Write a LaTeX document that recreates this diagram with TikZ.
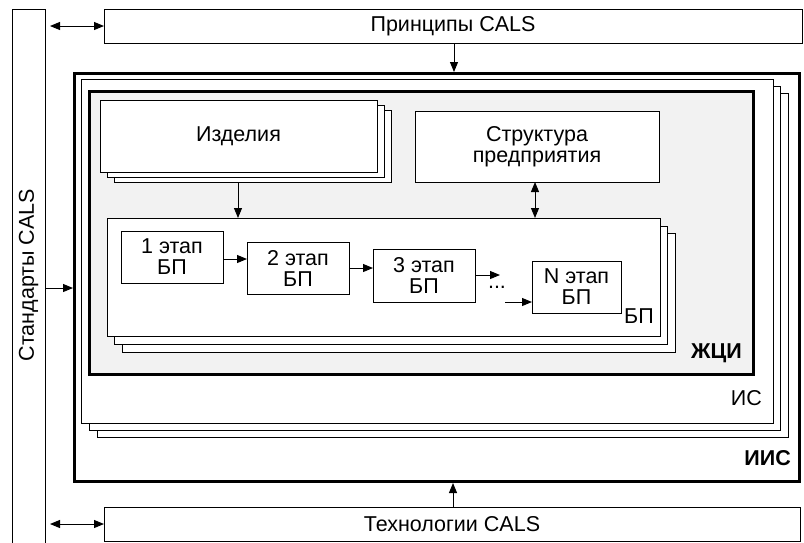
\documentclass[tikz,border=0pt]{standalone}
\usepackage{fontspec}
\setmainfont{Liberation Sans}
\usetikzlibrary{arrows.meta,calc}
\definecolor{zcigray}{HTML}{F2F2F2}
\newcommand{\dfont}{\fontsize{21.5}{21}\selectfont}
\begin{document}
\begin{tikzpicture}[x=1pt,y=-1pt,
  box/.style={draw=black, line width=1pt, fill=white, inner sep=0pt, outer sep=0pt, font=\dfont, align=center},
  thickbox/.style={draw=black, line width=3pt, inner sep=0pt, outer sep=0pt},
  layer/.style={draw=black, line width=1pt, fill=white},
  arr/.style={line width=1pt, -{Triangle[length=10pt,width=8pt]}},
  darr/.style={line width=1pt, {Triangle[length=10pt,width=8pt]}-{Triangle[length=10pt,width=8pt]}},
  lbl/.style={inner sep=0pt, font=\dfont},
  blbl/.style={inner sep=0pt, font=\dfont\bfseries}]
\useasboundingbox (0,0) rectangle (804,542);
\clip (0,0) rectangle (804,542);

% outer frames
\node[box, minimum width=33pt, minimum height=543pt] (std) at (28.5,280.5) {};
\node[lbl, rotate=90] (stdlbl) at (28.5,275) {Стандарты CALS};
\node[box, minimum width=698pt, minimum height=34pt] (principles) at (453,26) {Принципы CALS};
\node[box, minimum width=696pt, minimum height=34pt] (tech) at (452,524) {Технологии CALS};

% IIS
\node[thickbox, minimum width=725pt, minimum height=408pt] (iis) at (437,277.5) {};
% IS stack
\draw[layer] (97,93) rectangle (788,437);
\draw[layer] (89,86) rectangle (780,430);
\node[box, minimum width=692pt, minimum height=344pt] (is) at (427,251) {};
% ZCI
\node[thickbox, fill=zcigray, minimum width=664pt, minimum height=283.7pt] (zci) at (421,232.85) {};

% Izdeliya stack
\node[box, minimum width=277pt, minimum height=72pt] (izd) at (238.5,136) {};
\draw[layer] ($(izd.north west)+(14,10)$) rectangle ($(izd.south east)+(14,10)$);
\draw[layer] ($(izd.north west)+(7,5)$) rectangle ($(izd.south east)+(7,5)$);
\node[box, minimum width=277pt, minimum height=72pt] (izdf) at (238.5,136) {Изделия};

% Struktura
\node[box, minimum width=244pt, minimum height=71pt] (str) at (537,146.5) {Структура\\предприятия};

% BP stack
\draw[layer] (122,233) rectangle (675,352);
\draw[layer] (114,226) rectangle (667,344);
\node[box, minimum width=553pt, minimum height=118pt] (bp) at (383.5,277) {};

% steps
\node[box, minimum width=102pt, minimum height=52pt] (s1) at (172,257) {1 этап\\БП};
\node[box, minimum width=102pt, minimum height=52pt] (s2) at (298,268) {2 этап\\БП};
\node[box, minimum width=102pt, minimum height=53pt] (s3) at (424,275.5) {3 этап\\БП};
\node[box, minimum width=89pt, minimum height=52pt] (sN) at (576.5,287) {N этап\\БП};
\node[lbl, anchor=base] (dots) at (497,288) {...};

% labels
\node[lbl, anchor=base east] (bplbl) at (654,323) {БП};
\node[blbl, anchor=base east] (zcilbl) at (742,358) {ЖЦИ};
\node[lbl, anchor=base east] (islbl) at (762,405) {ИС};
\node[blbl, anchor=base east] (iislbl) at (791,465) {ИИС};

% helper coordinates
\coordinate (cp) at (454,0);
\coordinate (ct) at (453,0);
\coordinate (cstd) at (0,288);
\coordinate (ci) at (238,0);
\coordinate (cs) at (535,0);
\coordinate (c12) at (0,259);
\coordinate (c23) at (0,268);
\coordinate (dotsA) at (500,275);
\coordinate (dotsB) at (505,302);

% connectors
\draw[darr, shorten <=5pt] (std.east |- principles.west) -- (principles.west);
\draw[darr, shorten <=5pt] (std.east |- tech.west) -- (tech.west);
\draw[arr, shorten >=1.5pt] (std.east |- cstd) -- (iis.west |- cstd);
\draw[arr, shorten >=1.5pt] (principles.south -| cp) -- (iis.north -| cp);
\draw[arr, shorten >=1.5pt] (tech.north -| ct) -- (iis.south -| ct);
\draw[arr] ($(izd.south -| ci)+(0,10)$) -- (bp.north -| ci);
\draw[darr] (str.south -| cs) -- (bp.north -| cs);
\draw[arr] (s1.east |- c12) -- (s2.west |- c12);
\draw[arr] (s2.east |- c23) -- (s3.west |- c23);
\draw[arr] (s3.east |- dotsA) -- (dotsA);
\draw[arr] (dotsB) -- (sN.west |- dotsB);
\end{tikzpicture}
\end{document}
